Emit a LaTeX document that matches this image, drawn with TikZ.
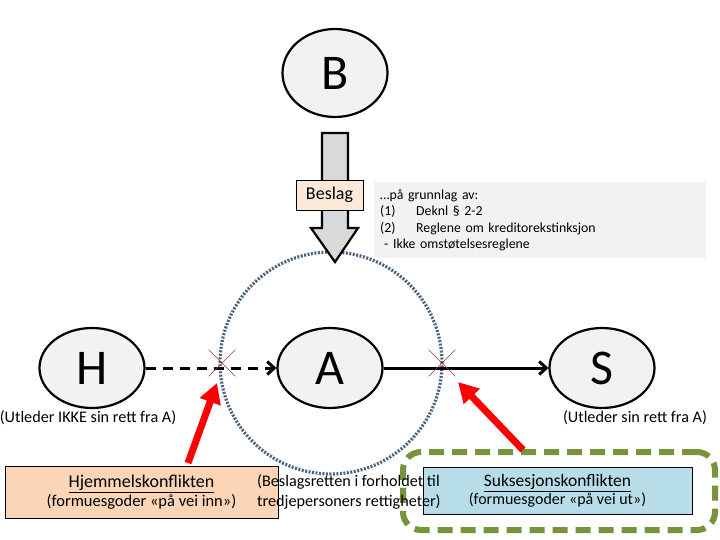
\documentclass[tikz,border=0pt]{standalone}
\usepackage{fontspec}
\setmainfont{Carlito}
\usetikzlibrary{shapes.geometric,shapes.misc,arrows.meta}
\definecolor{ellfill}{HTML}{F2F2F2}
\definecolor{arrfill}{HTML}{D9D9D9}
\definecolor{beslagfill}{HTML}{FDE9D9}
\definecolor{notefill}{HTML}{F2F2F2}
\definecolor{circcol}{HTML}{4A6480}
\definecolor{crosscol}{HTML}{953545}
\definecolor{hjemfill}{HTML}{FBD5B5}
\definecolor{sukfill}{HTML}{B7DEE8}
\definecolor{greencol}{HTML}{77933C}
\tikzset{
  ell/.style={ellipse, draw=black, line width=2.2pt, fill=ellfill, minimum width=105pt,
    minimum height=80pt, inner sep=0pt, font=\fontsize{50}{54}\selectfont},
  crossmark/.style={cross out, draw=crosscol, line width=0.6pt, minimum size=26pt, inner sep=0pt},
  redarrow/.style={draw=red, line width=7pt, -{Triangle[length=20pt,width=21pt]}},
  lbl/.style={font=\fontsize{16.2}{19}\selectfont, inner sep=0pt},
  conbox/.style={draw=black, line width=0.8pt, align=center, inner sep=0pt},
}
\begin{document}
\begin{tikzpicture}[x=1pt,y=-1pt]
\useasboundingbox (0,0) rectangle (720,540);
% dotted circle
\node[circle, draw=circcol, line width=3.2pt, dash pattern=on 2pt off 1.5pt,
  minimum size=222pt, inner sep=0pt] (circ) at (331,363) {};
% gray fat arrow B -> A
\draw[line width=2.2pt, fill=arrfill, line join=miter]
  (322,133) -- (348,133) -- (348,228) -- (358,228) -- (335,262) -- (311,228) -- (322,228) -- cycle;
% ellipses
\node[ell, minimum height=88pt] (B) at (335,73) {B};
\node[ell] (H) at (92,368) {H};
\node[ell] (A) at (330,368) {A};
\node[ell] (S) at (602,368) {S};
% Beslag box
\node[draw=black, line width=0.6pt, fill=beslagfill, minimum width=67pt, minimum height=30pt,
  inner sep=0pt, font=\fontsize{18}{20}\selectfont] (beslag) at (329.5,195) {Beslag};
% note box
\node[fill=notefill, anchor=north west, text width=320pt, minimum height=76pt,
  inner xsep=6pt, inner ysep=4pt, align=left, font=\fontsize{13.8}{16.2}\selectfont] (note) at (374,182)
  {…på grunnlag av:\\
   \makebox[36pt][l]{(1)}Deknl § 2-2\\
   \makebox[36pt][l]{(2)}Reglene om kreditorekstinksjon\\
   \hspace*{4pt}- Ikke omstøtelsesreglene};
% connectors
\draw[line width=3pt, dash pattern=on 10pt off 7pt, -{Straight Barb[length=7pt,width=13pt,line width=3pt]}] (H) -- (A);
\draw[line width=3pt, -{Straight Barb[length=7pt,width=13pt,line width=3pt]}] (A) -- (S);
% crosses
\node[crossmark] (x1) at (222,363) {};
\node[crossmark] (x2) at (442,363) {};
% labels
\node[lbl] (lh) at (88,418) {(Utleder IKKE sin rett fra A)};
\node[lbl] (ls) at (635,418) {(Utleder sin rett fra A)};
% green dashed frame
\node[draw=greencol, line width=6pt, dash pattern=on 15pt off 8pt, rounded corners=18pt,
  minimum width=312pt, minimum height=78pt, inner sep=0pt] (frame) at (559,491) {};
% conflict boxes
\node[conbox, fill=hjemfill, minimum width=273pt, minimum height=52pt] (hjem) at (141.5,492)
  {{\fontsize{18}{20}\selectfont\underline{Hjemmelskonflikten}}\\[1pt]
   {\fontsize{16.5}{19}\selectfont(formuesgoder «på vei inn»)}};
\node[conbox, fill=sukfill, minimum width=269pt, minimum height=47pt] (suk) at (557.5,490.5)
  {{\fontsize{17.5}{20}\selectfont\underline{Suksesjonskonflikten}}\\[0pt]
   {\fontsize{16}{19}\selectfont(formuesgoder «på vei ut»)}};
% middle text
\node[anchor=west, align=left, inner sep=0pt, font=\fontsize{16.2}{20}\selectfont] (mid) at (257,492)
  {(Beslagsretten i forholdet til\\tredjepersoners rettigheter)};
% red arrows
\coordinate (r1s) at (188,463);
\coordinate (r1e) at (217,383);
\coordinate (r2s) at (523,450);
\coordinate (r2e) at (458,382);
\draw[redarrow] (r1s) -- (r1e);
\draw[redarrow] (r2s) -- (r2e);
\end{tikzpicture}
\end{document}
